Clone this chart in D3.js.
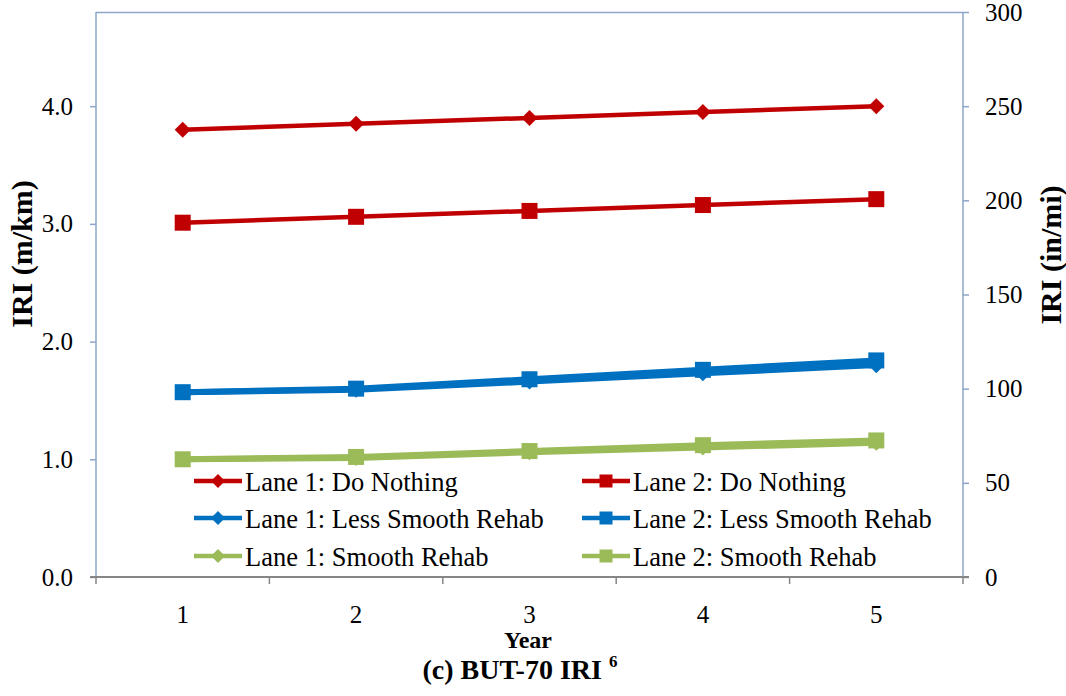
<!DOCTYPE html>
<html><head><meta charset="utf-8">
<script src="https://cdn.jsdelivr.net/npm/d3@7"></script>
<style>body{margin:0;background:#fff;} svg{display:block;font-family:"Liberation Serif","Times New Roman",serif;}</style>
</head><body>
<svg id="chart" width="1066" height="696"></svg>
<script>
const years = [1, 2, 3, 4, 5];
const lane1DoNothing = [3.80, 3.85, 3.90, 3.95, 4.00];
const lane2DoNothing = [3.01, 3.06, 3.11, 3.16, 3.21];
const lane1LessSmooth = [1.57, 1.59, 1.66, 1.73, 1.80];
const lane2LessSmooth = [1.57, 1.60, 1.68, 1.76, 1.84];
const lane1Smooth = [1.00, 1.01, 1.06, 1.10, 1.14];
const lane2Smooth = [1.00, 1.02, 1.07, 1.12, 1.16];
const leftTicks = [0, 1, 2, 3, 4];
const rightTicks = [0, 50, 100, 150, 200, 250, 300];
const seriesNames = ["Lane 1: Do Nothing", "Lane 2: Do Nothing", "Lane 1: Less Smooth Rehab", "Lane 2: Less Smooth Rehab", "Lane 1: Smooth Rehab", "Lane 2: Smooth Rehab"];

const series = [
  {name: seriesNames[0], values: lane1DoNothing, color: "#C00000", marker: "diamond", width: 4.5},
  {name: seriesNames[1], values: lane2DoNothing, color: "#C00000", marker: "square", width: 4.5},
  {name: seriesNames[2], values: lane1LessSmooth, color: "#0070C0", marker: "diamond", width: 6},
  {name: seriesNames[3], values: lane2LessSmooth, color: "#0070C0", marker: "square", width: 6},
  {name: seriesNames[4], values: lane1Smooth, color: "#9BBB59", marker: "diamond", width: 6},
  {name: seriesNames[5], values: lane2Smooth, color: "#9BBB59", marker: "square", width: 6}
];

const svg = d3.select("#chart");
const L = 96, R = 963, T = 12, B = 577;
const x = d3.scaleBand().domain(years).range([L, R]).padding(0);
const y = d3.scaleLinear().domain([0, 4.8]).range([B, T]);
const y2 = d3.scaleLinear().domain([0, 300]).range([B, T]);
const cx = d => x(d) + x.bandwidth() / 2;

const axisBlue = "#8EA4C8", axisGray = "#868686";

// top border
svg.append("line").attr("x1", L).attr("x2", R).attr("y1", T + 0.5).attr("y2", T + 0.5)
  .attr("stroke", axisBlue).attr("stroke-width", 1.5);

// left axis
const gl = svg.append("g").attr("transform", `translate(${L},0)`)
  .call(d3.axisLeft(y).tickValues(leftTicks).tickFormat(d3.format(".1f")).tickSize(6).tickPadding(17));
gl.select(".domain").attr("stroke", axisBlue).attr("stroke-width", 1.5).attr("d", `M0,${T}V${B}`);
gl.selectAll(".tick line").attr("stroke", axisBlue).attr("stroke-width", 1.5);
gl.selectAll("text").attr("font-size", 25).attr("fill", "#000").attr("font-family", "Liberation Serif");

// right axis
const gr = svg.append("g").attr("transform", `translate(${R},0)`)
  .call(d3.axisRight(y2).tickValues(rightTicks).tickFormat(d3.format("d")).tickSize(6).tickPadding(16));
gr.select(".domain").attr("stroke", axisBlue).attr("stroke-width", 1.5).attr("d", `M0,${T}V${B}`);
gr.selectAll(".tick line").attr("stroke", axisBlue).attr("stroke-width", 1.5);
gr.selectAll("text").attr("font-size", 25).attr("fill", "#000").attr("font-family", "Liberation Serif");

// bottom axis
const gb = svg.append("g").attr("transform", `translate(0,${B})`)
  .call(d3.axisBottom(x).tickSize(0).tickPadding(28));
gb.select(".domain").attr("stroke", axisGray).attr("stroke-width", 2).attr("d", `M${L-6},0H${R+6}`);
gb.selectAll("text").attr("font-size", 25).attr("fill", "#000").attr("font-family", "Liberation Serif");
// category boundary ticks
const bounds = years.map(d => x(d)).concat([x(years[years.length-1]) + x.bandwidth()]);
gb.selectAll(".bt").data(bounds).enter().append("line")
  .attr("x1", d => d).attr("x2", d => d).attr("y1", 0).attr("y2", 7)
  .attr("stroke", axisGray).attr("stroke-width", 1.5);

// series
const line = d3.line().x((d, i) => cx(years[i])).y(d => y(d));
function drawMarker(g, type, px, py, size, color) {
  if (type === "diamond") {
    g.append("path").attr("d", `M${px},${py-size}L${px+size},${py}L${px},${py+size}L${px-size},${py}Z`).attr("fill", color);
  } else {
    g.append("rect").attr("x", px - size).attr("y", py - size).attr("width", 2*size).attr("height", 2*size).attr("fill", color);
  }
}
series.forEach(s => {
  const g = svg.append("g");
  g.append("path").datum(s.values).attr("d", line).attr("fill", "none")
    .attr("stroke", s.color).attr("stroke-width", s.width).attr("stroke-linejoin", "round");
  s.values.forEach((v, i) => drawMarker(g, s.marker, cx(years[i]), y(v), s.marker === "diamond" ? 8 : 8, s.color));
});

// legend
const legCols = [194, 582];
const legRows = [481, 518, 556];
series.forEach((s, i) => {
  const col = i % 2, row = Math.floor(i / 2);
  const lx = legCols[col], ly = legRows[row];
  const g = svg.append("g");
  g.append("line").attr("x1", lx).attr("x2", lx + 48).attr("y1", ly).attr("y2", ly)
    .attr("stroke", s.color).attr("stroke-width", 4.5);
  drawMarker(g, s.marker, lx + 24, ly, s.marker === "diamond" ? 7 : 6.5, s.color);
  g.append("text").attr("x", lx + 51).attr("y", ly + 10).attr("font-size", 26.5)
    .attr("fill", "#000").text(s.name);
});

// axis titles
svg.append("text").attr("transform", "translate(32,254) rotate(-90)").attr("text-anchor", "middle")
  .attr("font-weight", "bold").attr("font-size", 30).text("IRI (m/km)");
svg.append("text").attr("transform", "translate(1061,255) rotate(-90)").attr("text-anchor", "middle")
  .attr("font-weight", "bold").attr("font-size", 30).text("IRI (in/mi)");
svg.append("text").attr("x", 528).attr("y", 648).attr("text-anchor", "middle")
  .attr("font-weight", "bold").attr("font-size", 24).text("Year");
const title = svg.append("text").attr("x", 520).attr("y", 679).attr("text-anchor", "middle")
  .attr("font-weight", "bold").attr("font-size", 28);
title.append("tspan").text("(c) BUT-70 IRI ");
title.append("tspan").attr("font-size", 17).attr("dy", -12).text("6");
</script>
</body></html>
